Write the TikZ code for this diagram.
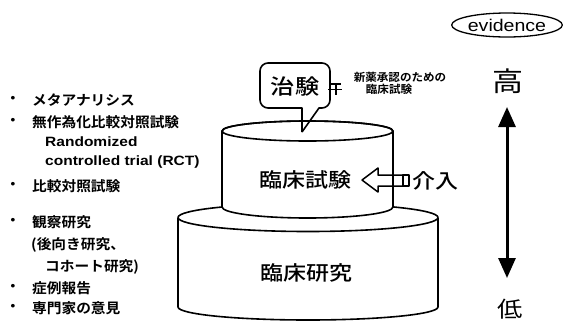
\documentclass[tikz,border=0pt]{standalone}
\usepackage{fontspec}
\usetikzlibrary{arrows.meta,shapes.geometric}
\newfontfamily\jp[FakeStretch=1.15]{Noto Sans CJK JP}
\newfontfamily\jpm[FakeStretch=1.15,UprightFont=* Medium]{Noto Sans CJK JP}
\newfontfamily\jpb[FakeStretch=1.05,UprightFont=* Bold]{Noto Sans CJK JP}
\newfontfamily\lat[FakeStretch=1.15]{Liberation Sans}
\begin{document}
\begin{tikzpicture}[x=1pt,y=-1pt,line join=round,
  shapeline/.style={line width=1.6pt},
  li/.style={anchor=west,inner sep=0pt,font=\jpb\fontsize{14}{14}\selectfont},
  en/.style={anchor=west,inner sep=0pt,font=\lat\bfseries\fontsize{13.5}{14}\selectfont},
  bul/.style={inner sep=0pt,font=\jpb\fontsize{14}{14}\selectfont},
  big/.style={inner sep=0pt,font=\jpm\fontsize{20}{20}\selectfont},
  small/.style={inner sep=0pt,font=\jpb\fontsize{11}{11}\selectfont},
  bigtip/.tip={Triangle[width=17pt,length=20pt]}
]
\useasboundingbox (0,0) rectangle (563,322);

% bullet list
\node[bul] (d1) at (13,100) {・};
\node[li] (t1) at (32,100) {メタアナリシス};
\node[bul] (d2) at (13,122) {・};
\node[li] (t2) at (32,122) {無作為化比較対照試験};
\node[en] (t3) at (45,142) {Randomized};
\node[en] (t4) at (45,162) {controlled trial (RCT)};
\node[bul] (d5) at (13,186) {・};
\node[li] (t5) at (32,186) {比較対照試験};
\node[bul] (d6) at (13,222) {・};
\node[li] (t6) at (32,222) {観察研究};
\node[li] (t7) at (31,245) {(後向き研究、};
\node[li] (t8) at (45,267) {コホート研究)};
\node[bul] (d9) at (13,288) {・};
\node[li] (t9) at (32,288) {症例報告};
\node[bul] (d10) at (13,308) {・};
\node[li] (t10) at (32,308) {専門家の意見};

% lower cylinder
\draw[shapeline] (178,217.5) -- (178,307) arc[start angle=180,end angle=0,x radius=130,y radius=13] -- (438,217.5);
\draw[shapeline] (308,217.5) ellipse[x radius=130,y radius=14];

% upper cylinder
\filldraw[shapeline,fill=white] (222,131) -- (222,207) arc[start angle=180,end angle=0,x radius=85.5,y radius=11] -- (393,131) arc[start angle=0,end angle=-180,x radius=85.5,y radius=10] -- cycle;
\draw[shapeline] (307.5,131) ellipse[x radius=85.5,y radius=10];

% callout
\draw[shapeline] (302,132) -- (302,108) [rounded corners=8] -- (260,108) -- (260,63) -- (330,63) -- (330,108) [sharp corners] -- (319,108) -- (302,132);
\node[inner sep=0pt,font=\jpm\fontsize{21}{21}\selectfont] (chiken) at (295,87) {治験};
\draw[line width=1.3pt] (331,84) -- (341,84) (336,84) -- (336,95) (328,89.5) -- (342,89.5);
\node[small] (n1) at (400,77) {新薬承認のための};
\node[small] (n2) at (389,89) {臨床試験};

% texts in cylinders
\node[big] (rs) at (305,180) {臨床試験};
\node[big] (rk) at (306,273) {臨床研究};

% hollow arrow
\draw[line width=1.5pt] (362,180) -- (378,168) -- (378,175) -- (403,175) -- (403,186) -- (378,186) -- (378,192) -- cycle;
\draw[line width=1.5pt] (403,175) rectangle (409,186);
\node[inner sep=0pt,font=\jpm\fontsize{20}{20}\selectfont,anchor=west] (kainyu) at (412,181) {介入};

% evidence
\node[draw,line width=1.3pt,ellipse,minimum width=109pt,minimum height=24pt,inner sep=0pt,font=\lat\fontsize{17}{17}\selectfont] (ev) at (507,25) {evidence};
\node[inner sep=0pt,font=\jp\fontsize{27}{27}\selectfont] (hi) at (508,81) {高};
\node[inner sep=0pt,font=\jp\fontsize{22}{22}\selectfont] (lo) at (510,309) {低};
\coordinate (at) at (507,107);
\coordinate (ab) at (507,278);
\draw[line width=3pt,bigtip-bigtip] (at) -- (ab);
\end{tikzpicture}
\end{document}
